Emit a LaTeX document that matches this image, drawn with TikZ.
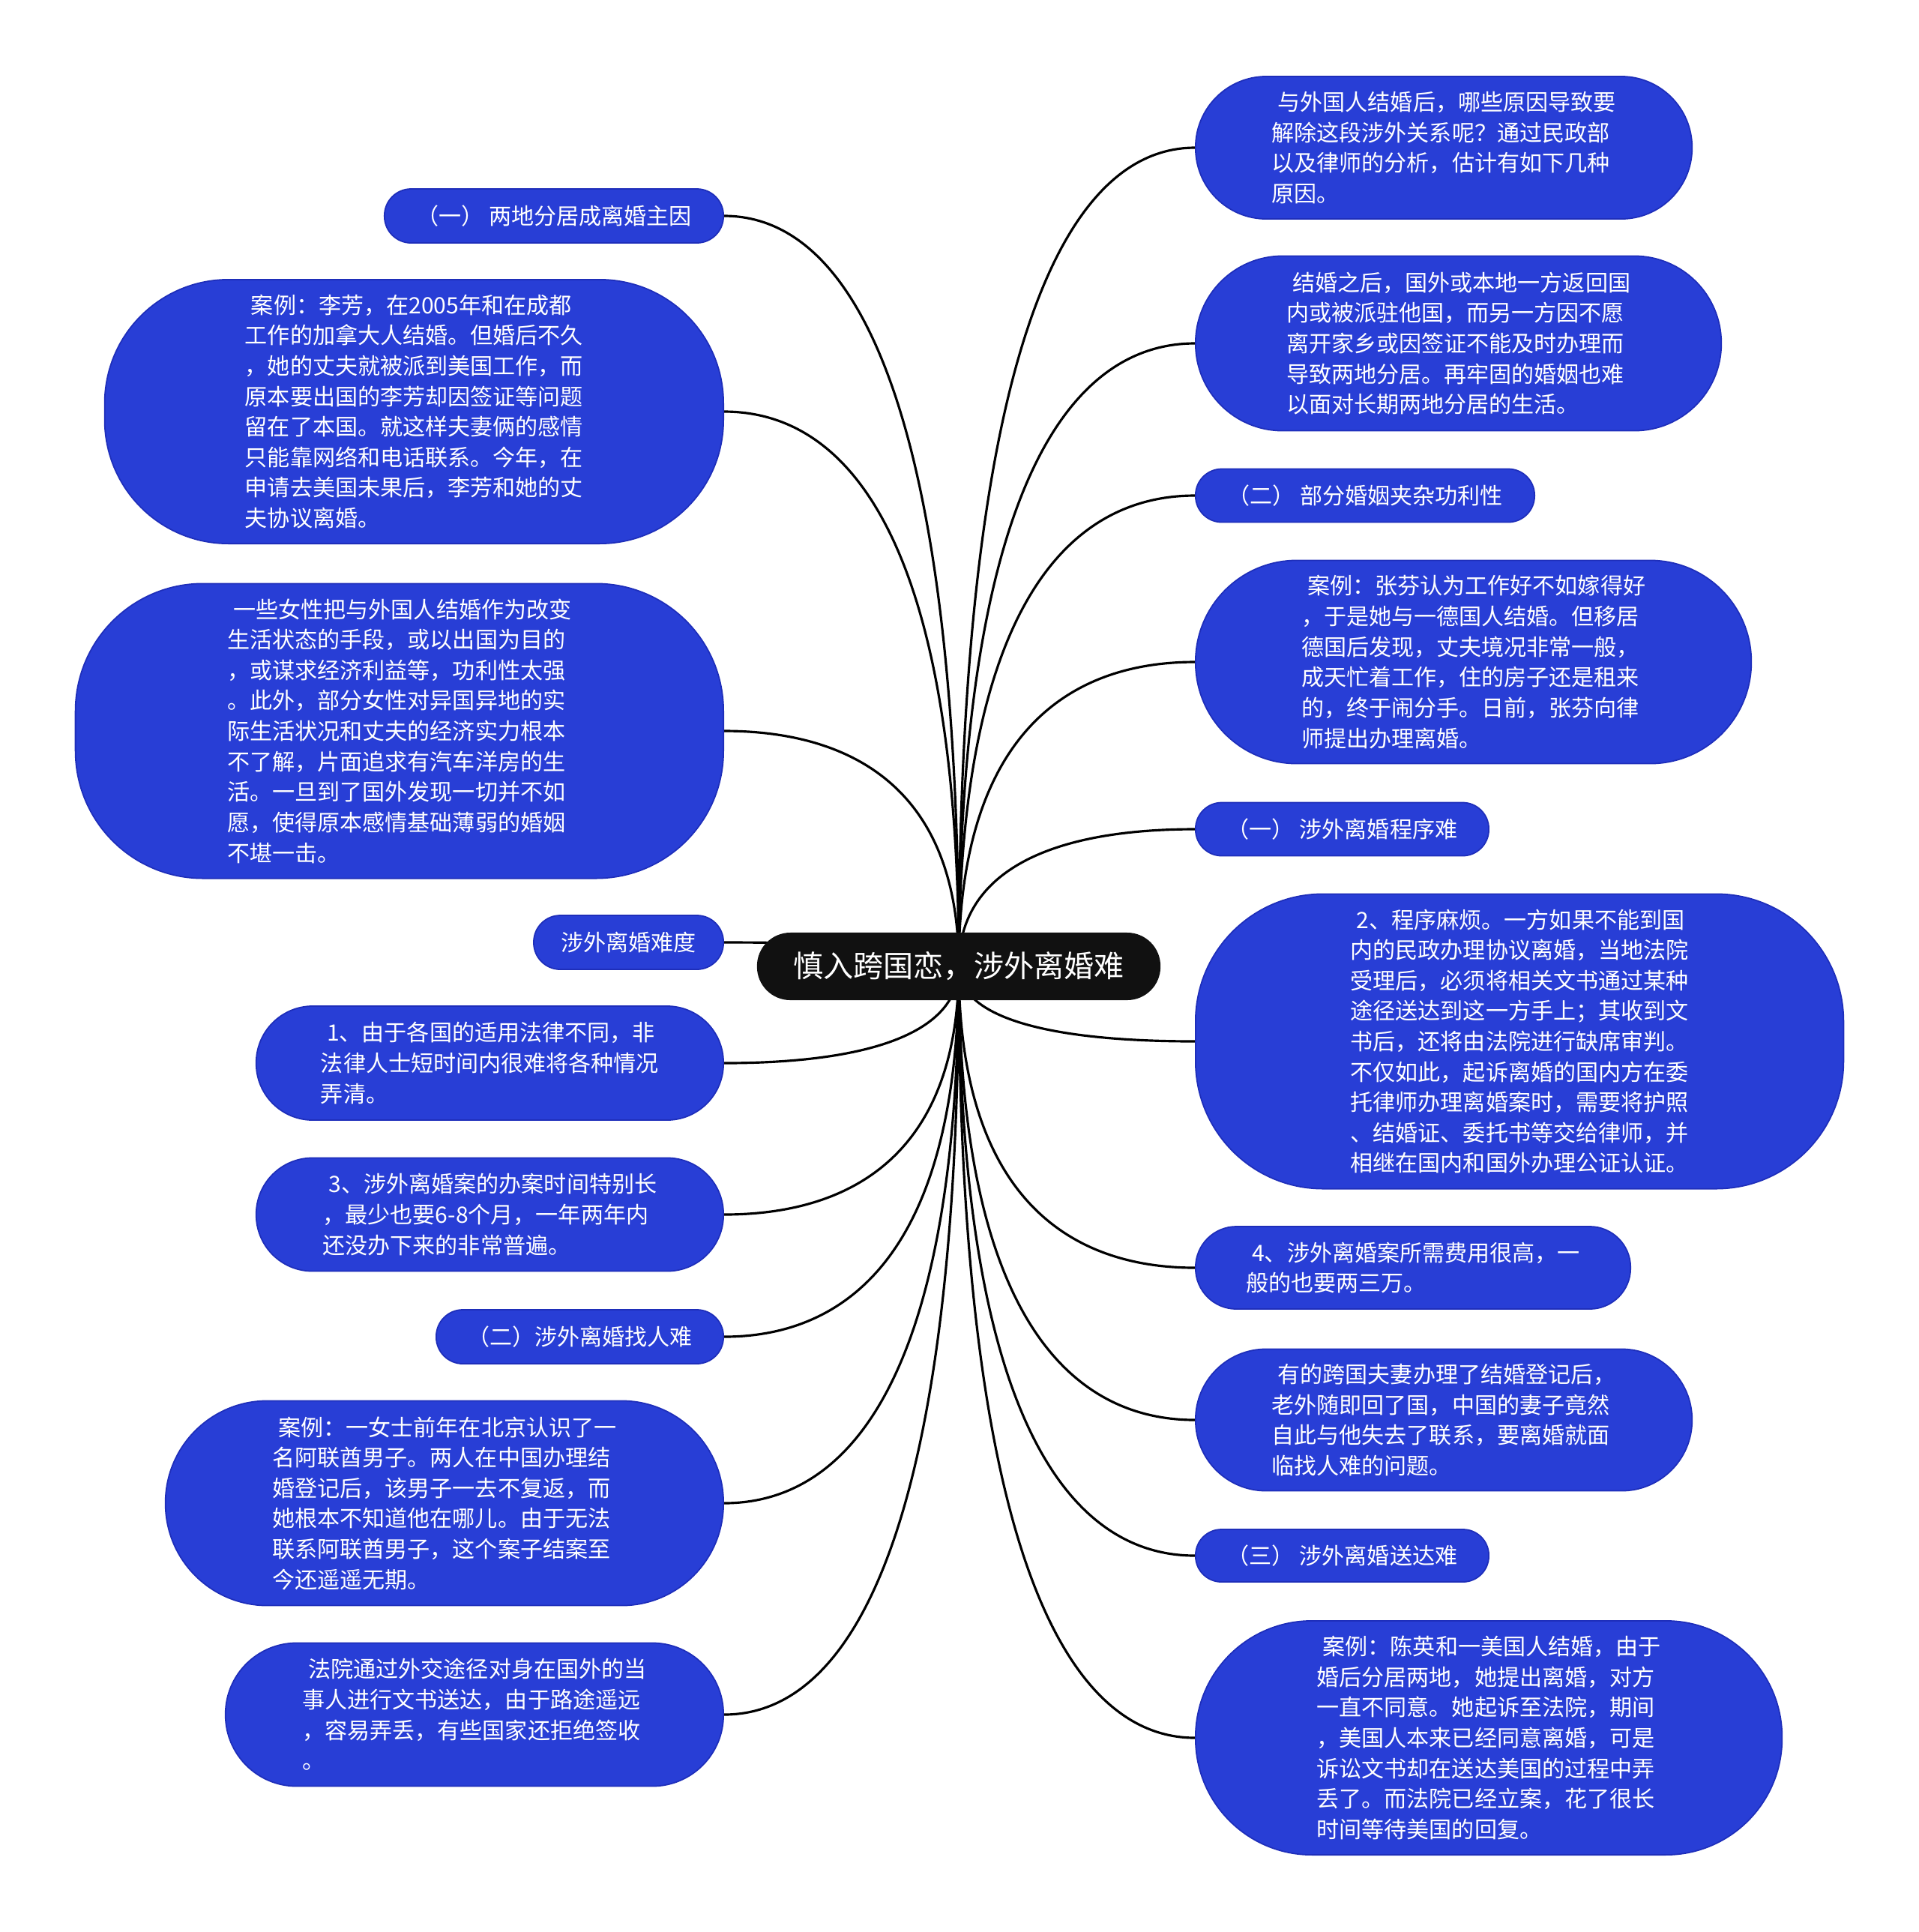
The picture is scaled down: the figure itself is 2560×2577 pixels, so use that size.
\documentclass[tikz,border=0pt]{standalone}
\definecolor{TopicBlue}{RGB}{40,62,214}
\definecolor{TopicEdge}{RGB}{30,46,186}
\definecolor{RootBlack}{RGB}{17,17,17}
\usepackage{fontspec}
\setmainfont{Noto Sans CJK SC}
\usepackage{tikz}
\usetikzlibrary{calc, backgrounds}
\newcommand{\firstgap}{\hspace*{.27em}}

\begin{document}
\begin{tikzpicture}[x=0.01cm, y=-0.01cm,
    topic/.style={fill=TopicBlue, draw=TopicEdge, line width=0.5pt, text=white,
                  rounded corners=#1, align=left, inner sep=0pt,
                  font=\fontsize{8.55pt}{11.55pt}\selectfont},
    central/.style={fill=RootBlack, text=white, rounded corners=0.445cm,
                    inner sep=0pt, font=\fontsize{11.4pt}{14pt}\selectfont},
    branch/.style={draw=black, line width=0.9pt}]
    \useasboundingbox (0,0) rectangle (2560,2577);

    % centre
    \node[central, minimum width=5.38cm, minimum height=0.9cm] (root) at (1279,1289)
        {慎入跨国恋，涉外离婚难};

    % left side
    \node[topic=0.355cm, minimum width=4.52cm, minimum height=0.72cm, anchor=east]
        (l1) at (966,288) {（一） 两地分居成离婚主因};
    \node[topic=1.65cm, minimum width=8.25cm, minimum height=3.52cm, anchor=east]
        (l2) at (966,549) {\firstgap 案例：李芳，在2005年和在成都\\
        工作的加拿大人结婚。但婚后不久\\
        ，她的丈夫就被派到美国工作，而\\
        原本要出国的李芳却因签证等问题\\
        留在了本国。就这样夫妻俩的感情\\
        只能靠网络和电话联系。今年，在\\
        申请去美国未果后，李芳和她的丈\\
        夫协议离婚。};
    \node[topic=1.7cm, minimum width=8.64cm, minimum height=3.93cm, anchor=east]
        (l3) at (966,975) {\firstgap 一些女性把与外国人结婚作为改变\\
        生活状态的手段，或以出国为目的\\
        ，或谋求经济利益等，功利性太强\\
        。此外，部分女性对异国异地的实\\
        际生活状况和丈夫的经济实力根本\\
        不了解，片面追求有汽车洋房的生\\
        活。一旦到了国外发现一切并不如\\
        愿，使得原本感情基础薄弱的婚姻\\
        不堪一击。};
    \node[topic=0.355cm, minimum width=2.53cm, minimum height=0.72cm, anchor=east]
        (l4) at (966,1257) {涉外离婚难度};
    \node[topic=0.755cm, minimum width=6.23cm, minimum height=1.52cm, anchor=east]
        (l5) at (966,1418) {\firstgap 1、由于各国的适用法律不同，非\\
        法律人士短时间内很难将各种情况\\
        弄清。};
    \node[topic=0.75cm, minimum width=6.23cm, minimum height=1.51cm, anchor=east]
        (l6) at (966,1620) {\firstgap 3、涉外离婚案的办案时间特别长\\
        ，最少也要6-8个月，一年两年内\\
        还没办下来的非常普遍。};
    \node[topic=0.355cm, minimum width=3.83cm, minimum height=0.72cm, anchor=east]
        (l7) at (966,1783) {（二）涉外离婚找人难};
    \node[topic=1.36cm, minimum width=7.44cm, minimum height=2.73cm, anchor=east]
        (l8) at (966,2005) {\firstgap 案例：一女士前年在北京认识了一\\
        名阿联酋男子。两人在中国办理结\\
        婚登记后，该男子一去不复返，而\\
        她根本不知道他在哪儿。由于无法\\
        联系阿联酋男子，这个案子结案至\\
        今还遥遥无期。};
    \node[topic=0.95cm, minimum width=6.64cm, minimum height=1.91cm, anchor=east]
        (l9) at (966,2287) {\firstgap 法院通过外交途径对身在国外的当\\
        事人进行文书送达，由于路途遥远\\
        ，容易弄丢，有些国家还拒绝签收\\
        。};

    % right side
    \node[topic=0.945cm, minimum width=6.62cm, minimum height=1.9cm, anchor=west]
        (r1) at (1594,197) {\firstgap 与外国人结婚后，哪些原因导致要\\
        解除这段涉外关系呢？通过民政部\\
        以及律师的分析，估计有如下几种\\
        原因。};
    \node[topic=1.16cm, minimum width=7.01cm, minimum height=2.33cm, anchor=west]
        (r2) at (1594,458) {\firstgap 结婚之后，国外或本地一方返回国\\
        内或被派驻他国，而另一方因不愿\\
        离开家乡或因签证不能及时办理而\\
        导致两地分居。再牢固的婚姻也难\\
        以面对长期两地分居的生活。};
    \node[topic=0.35cm, minimum width=4.52cm, minimum height=0.71cm, anchor=west]
        (r3) at (1594,661) {（二） 部分婚姻夹杂功利性};
    \node[topic=1.35cm, minimum width=7.41cm, minimum height=2.71cm, anchor=west]
        (r4) at (1594,883) {\firstgap 案例：张芬认为工作好不如嫁得好\\
        ，于是她与一德国人结婚。但移居\\
        德国后发现，丈夫境况非常一般，\\
        成天忙着工作，住的房子还是租来\\
        的，终于闹分手。日前，张芬向律\\
        师提出办理离婚。};
    \node[topic=0.35cm, minimum width=3.91cm, minimum height=0.71cm, anchor=west]
        (r5) at (1594,1106) {（一） 涉外离婚程序难};
    \node[topic=1.7cm, minimum width=8.64cm, minimum height=3.93cm, anchor=west]
        (r6) at (1594,1389) {\firstgap 2、程序麻烦。一方如果不能到国\\
        内的民政办理协议离婚，当地法院\\
        受理后，必须将相关文书通过某种\\
        途径送达到这一方手上；其收到文\\
        书后，还将由法院进行缺席审判。\\
        不仅如此，起诉离婚的国内方在委\\
        托律师办理离婚案时，需要将护照\\
        、结婚证、委托书等交给律师，并\\
        相继在国内和国外办理公证认证。};
    \node[topic=0.545cm, minimum width=5.8cm, minimum height=1.1cm, anchor=west]
        (r7) at (1594,1691) {\firstgap 4、涉外离婚案所需费用很高，一\\
        般的也要两三万。};
    \node[topic=0.94cm, minimum width=6.62cm, minimum height=1.89cm, anchor=west]
        (r8) at (1594,1894) {\firstgap 有的跨国夫妻办理了结婚登记后，\\
        老外随即回了国，中国的妻子竟然\\
        自此与他失去了联系，要离婚就面\\
        临找人难的问题。};
    \node[topic=0.345cm, minimum width=3.91cm, minimum height=0.7cm, anchor=west]
        (r9) at (1594,2075) {（三） 涉外离婚送达难};
    \node[topic=1.55cm, minimum width=7.82cm, minimum height=3.12cm, anchor=west]
        (r10) at (1594,2318) {\firstgap 案例：陈英和一美国人结婚，由于\\
        婚后分居两地，她提出离婚，对方\\
        一直不同意。她起诉至法院，期间\\
        ，美国人本来已经同意离婚，可是\\
        诉讼文书却在送达美国的过程中弄\\
        丢了。而法院已经立案，花了很长\\
        时间等待美国的回复。};

    % connectors
    \begin{scope}[on background layer]
        \foreach \n in {l1,l2,l3,l4,l5,l6,l7,l8,l9}
            \draw[branch] (root.center)
                .. controls ($(root.center)!0.75!(root.center |- \n.east)$)
                        and ($(\n.east)!0.55!(root.center |- \n.east)$) .. (\n.east);
        \foreach \n in {r1,r2,r3,r4,r5,r6,r7,r8,r9,r10}
            \draw[branch] (root.center)
                .. controls ($(root.center)!0.75!(root.center |- \n.west)$)
                        and ($(\n.west)!0.55!(root.center |- \n.west)$) .. (\n.west);
    \end{scope}
\end{tikzpicture}
\end{document}
